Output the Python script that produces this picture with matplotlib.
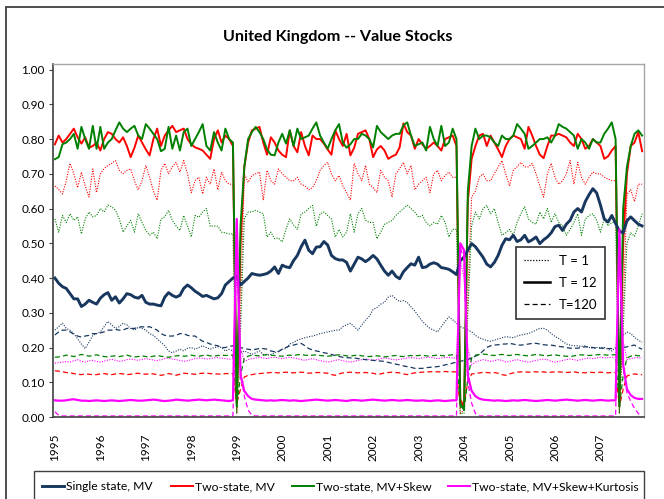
import numpy as np
import matplotlib.pyplot as plt
from matplotlib.lines import Line2D
from matplotlib.patches import Rectangle

plt.rcParams['font.family'] = ['Lato', 'DejaVu Sans']

# Monthly portfolio weights, Jan 1995 - Dec 2007 (12 values per row = one year)
years = ['1995', '1996', '1997', '1998', '1999', '2000', '2001',
         '2002', '2003', '2004', '2005', '2006', '2007']

# Single state, MV
navy_t1 = [
    0.250, 0.260, 0.270, 0.255, 0.250, 0.240, 0.225, 0.210, 0.197, 0.215, 0.235, 0.240,
    0.245, 0.260, 0.275, 0.265, 0.255, 0.260, 0.270, 0.265, 0.255, 0.250, 0.258, 0.255,
    0.250, 0.240, 0.235, 0.225, 0.215, 0.205, 0.190, 0.185, 0.190, 0.195, 0.190, 0.198,
    0.200, 0.195, 0.200, 0.205, 0.200, 0.195, 0.200, 0.202, 0.200, 0.190, 0.195, 0.190,
    0.190, 0.185, 0.190, 0.185, 0.180, 0.185, 0.190, 0.180, 0.178, 0.180, 0.185, 0.190,
    0.195, 0.197, 0.210, 0.215, 0.221, 0.225, 0.228, 0.231, 0.233, 0.236, 0.240, 0.242,
    0.245, 0.247, 0.250, 0.250, 0.260, 0.265, 0.270, 0.260, 0.250, 0.265, 0.279, 0.290,
    0.310, 0.315, 0.325, 0.330, 0.345, 0.350, 0.340, 0.332, 0.335, 0.330, 0.317, 0.305,
    0.290, 0.275, 0.265, 0.255, 0.250, 0.245, 0.260, 0.275, 0.288, 0.280, 0.270, 0.260,
    0.255, 0.250, 0.245, 0.235, 0.228, 0.224, 0.220, 0.218, 0.221, 0.225, 0.228, 0.231,
    0.230, 0.228, 0.233, 0.236, 0.238, 0.240, 0.245, 0.250, 0.255, 0.255, 0.250, 0.240,
    0.232, 0.226, 0.218, 0.210, 0.207, 0.205, 0.205, 0.203, 0.205, 0.200, 0.198, 0.200,
    0.200, 0.200, 0.195, 0.190, 0.200, 0.220, 0.235, 0.245, 0.240, 0.230, 0.221, 0.215]
navy_t12 = [
    0.400, 0.385, 0.375, 0.370, 0.355, 0.340, 0.340, 0.318, 0.325, 0.336, 0.330, 0.325,
    0.342, 0.352, 0.358, 0.336, 0.346, 0.328, 0.340, 0.355, 0.352, 0.345, 0.342, 0.350,
    0.330, 0.325, 0.325, 0.322, 0.320, 0.345, 0.358, 0.350, 0.345, 0.350, 0.370, 0.380,
    0.372, 0.362, 0.355, 0.347, 0.350, 0.345, 0.340, 0.343, 0.355, 0.380, 0.390, 0.400,
    0.405, 0.380, 0.390, 0.400, 0.413, 0.410, 0.408, 0.410, 0.413, 0.420, 0.432, 0.413,
    0.437, 0.432, 0.430, 0.450, 0.465, 0.490, 0.509, 0.480, 0.470, 0.489, 0.490, 0.505,
    0.495, 0.465, 0.456, 0.452, 0.452, 0.445, 0.420, 0.440, 0.460, 0.455, 0.447, 0.455,
    0.465, 0.455, 0.437, 0.420, 0.408, 0.420, 0.405, 0.398, 0.418, 0.430, 0.441, 0.437,
    0.460, 0.430, 0.432, 0.440, 0.444, 0.440, 0.430, 0.428, 0.425, 0.418, 0.410, 0.450,
    0.460, 0.480, 0.499, 0.490, 0.475, 0.460, 0.440, 0.432, 0.445, 0.465, 0.494, 0.513,
    0.510, 0.523, 0.505, 0.510, 0.523, 0.504, 0.510, 0.518, 0.499, 0.510, 0.518, 0.530,
    0.548, 0.552, 0.537, 0.555, 0.566, 0.590, 0.600, 0.590, 0.620, 0.640, 0.657, 0.645,
    0.610, 0.570, 0.561, 0.580, 0.557, 0.535, 0.530, 0.565, 0.576, 0.565, 0.555, 0.550]
navy_t120 = [
    0.236, 0.245, 0.250, 0.250, 0.245, 0.238, 0.233, 0.230, 0.233, 0.235, 0.240, 0.240,
    0.242, 0.245, 0.250, 0.250, 0.252, 0.250, 0.250, 0.255, 0.255, 0.255, 0.258, 0.260,
    0.258, 0.260, 0.255, 0.250, 0.240, 0.235, 0.233, 0.233, 0.235, 0.240, 0.240, 0.235,
    0.233, 0.233, 0.225, 0.218, 0.215, 0.210, 0.207, 0.205, 0.200, 0.200, 0.203, 0.205,
    0.202, 0.200, 0.197, 0.195, 0.193, 0.195, 0.197, 0.197, 0.195, 0.190, 0.188, 0.188,
    0.195, 0.200, 0.205, 0.207, 0.210, 0.212, 0.205, 0.197, 0.193, 0.190, 0.188, 0.185,
    0.183, 0.180, 0.177, 0.174, 0.172, 0.171, 0.170, 0.170, 0.168, 0.167, 0.165, 0.164,
    0.163, 0.162, 0.161, 0.160, 0.157, 0.155, 0.152, 0.150, 0.147, 0.145, 0.143, 0.140,
    0.140, 0.140, 0.142, 0.143, 0.144, 0.145, 0.147, 0.150, 0.152, 0.155, 0.158, 0.160,
    0.163, 0.165, 0.170, 0.175, 0.180, 0.190, 0.200, 0.205, 0.207, 0.208, 0.210, 0.210,
    0.212, 0.210, 0.207, 0.207, 0.208, 0.210, 0.212, 0.212, 0.210, 0.208, 0.207, 0.207,
    0.205, 0.203, 0.202, 0.200, 0.198, 0.198, 0.198, 0.200, 0.202, 0.202, 0.200, 0.198,
    0.198, 0.198, 0.197, 0.197, 0.198, 0.200, 0.200, 0.202, 0.205, 0.207, 0.200, 0.195]

# Two-state, MV
red_t1 = [
    0.665, 0.655, 0.642, 0.680, 0.730, 0.700, 0.660, 0.705, 0.665, 0.633, 0.714, 0.646,
    0.700, 0.715, 0.724, 0.730, 0.738, 0.710, 0.700, 0.710, 0.714, 0.680, 0.654, 0.680,
    0.724, 0.690, 0.650, 0.624, 0.710, 0.730, 0.700, 0.720, 0.733, 0.705, 0.738, 0.700,
    0.646, 0.680, 0.690, 0.642, 0.690, 0.670, 0.714, 0.654, 0.705, 0.680, 0.670, 0.670,
    0.010, 0.300, 0.700, 0.675, 0.695, 0.700, 0.705, 0.624, 0.710, 0.680, 0.670, 0.714,
    0.700, 0.690, 0.680, 0.680, 0.690, 0.670, 0.665, 0.654, 0.660, 0.680, 0.710, 0.724,
    0.733, 0.700, 0.680, 0.695, 0.665, 0.646, 0.624, 0.730, 0.700, 0.680, 0.724, 0.670,
    0.660, 0.646, 0.710, 0.690, 0.680, 0.633, 0.700, 0.715, 0.733, 0.700, 0.724, 0.654,
    0.670, 0.680, 0.690, 0.646, 0.700, 0.710, 0.680, 0.695, 0.705, 0.690, 0.690, 0.010,
    0.020, 0.350, 0.633, 0.650, 0.690, 0.700, 0.680, 0.680, 0.700, 0.720, 0.738, 0.700,
    0.665, 0.710, 0.720, 0.733, 0.720, 0.720, 0.730, 0.700, 0.665, 0.633, 0.700, 0.730,
    0.690, 0.670, 0.680, 0.700, 0.738, 0.670, 0.733, 0.690, 0.670, 0.690, 0.705, 0.700,
    0.700, 0.690, 0.685, 0.680, 0.680, 0.010, 0.300, 0.642, 0.654, 0.620, 0.670, 0.670]
red_t12 = [
    0.785, 0.810, 0.790, 0.800, 0.815, 0.830, 0.805, 0.787, 0.805, 0.775, 0.780, 0.790,
    0.767, 0.800, 0.820, 0.815, 0.800, 0.790, 0.805, 0.780, 0.748, 0.775, 0.810, 0.790,
    0.770, 0.753, 0.800, 0.830, 0.780, 0.810, 0.825, 0.838, 0.820, 0.825, 0.830, 0.800,
    0.785, 0.776, 0.772, 0.767, 0.755, 0.743, 0.800, 0.825, 0.790, 0.810, 0.800, 0.780,
    0.040, 0.500, 0.720, 0.790, 0.825, 0.830, 0.835, 0.790, 0.755, 0.805, 0.790, 0.767,
    0.755, 0.748, 0.825, 0.780, 0.762, 0.820, 0.780, 0.753, 0.810, 0.800, 0.800, 0.787,
    0.770, 0.755, 0.825, 0.800, 0.780, 0.815, 0.753, 0.775, 0.815, 0.820, 0.825, 0.800,
    0.748, 0.770, 0.780, 0.767, 0.743, 0.750, 0.755, 0.776, 0.845, 0.820, 0.810, 0.772,
    0.800, 0.785, 0.772, 0.780, 0.790, 0.780, 0.767, 0.800, 0.805, 0.810, 0.780, 0.050,
    0.030, 0.620, 0.743, 0.780, 0.810, 0.815, 0.780, 0.810, 0.790, 0.770, 0.748, 0.780,
    0.800, 0.810, 0.805, 0.800, 0.772, 0.835, 0.810, 0.780, 0.755, 0.745, 0.780, 0.810,
    0.810, 0.815, 0.810, 0.805, 0.790, 0.780, 0.815, 0.800, 0.772, 0.780, 0.800, 0.790,
    0.780, 0.743, 0.750, 0.767, 0.780, 0.040, 0.500, 0.700, 0.780, 0.790, 0.820, 0.765]
red_t120 = [
    0.133, 0.132, 0.130, 0.128, 0.127, 0.125, 0.123, 0.122, 0.124, 0.123, 0.122, 0.122,
    0.124, 0.125, 0.123, 0.122, 0.124, 0.125, 0.124, 0.122, 0.123, 0.125, 0.126, 0.124,
    0.123, 0.125, 0.124, 0.122, 0.120, 0.122, 0.125, 0.123, 0.120, 0.123, 0.126, 0.125,
    0.124, 0.123, 0.125, 0.126, 0.126, 0.125, 0.124, 0.124, 0.123, 0.125, 0.125, 0.125,
    0.040, 0.080, 0.115, 0.120, 0.122, 0.124, 0.125, 0.126, 0.127, 0.128, 0.128, 0.127,
    0.128, 0.129, 0.128, 0.127, 0.128, 0.129, 0.128, 0.126, 0.127, 0.128, 0.128, 0.127,
    0.126, 0.122, 0.120, 0.124, 0.127, 0.128, 0.129, 0.128, 0.127, 0.128, 0.128, 0.127,
    0.126, 0.123, 0.124, 0.127, 0.128, 0.129, 0.128, 0.127, 0.124, 0.122, 0.125, 0.127,
    0.128, 0.129, 0.130, 0.130, 0.131, 0.130, 0.130, 0.131, 0.130, 0.130, 0.130, 0.030,
    0.040, 0.100, 0.124, 0.125, 0.127, 0.128, 0.128, 0.127, 0.128, 0.126, 0.122, 0.120,
    0.124, 0.127, 0.129, 0.130, 0.130, 0.129, 0.130, 0.130, 0.129, 0.130, 0.128, 0.129,
    0.130, 0.130, 0.129, 0.128, 0.129, 0.130, 0.128, 0.128, 0.127, 0.129, 0.128, 0.128,
    0.129, 0.128, 0.127, 0.128, 0.128, 0.030, 0.080, 0.118, 0.122, 0.124, 0.122, 0.122]

# Two-state, MV+Skew
green_t1 = [
    0.570, 0.532, 0.580, 0.560, 0.585, 0.566, 0.576, 0.527, 0.570, 0.590, 0.576, 0.580,
    0.600, 0.590, 0.610, 0.605, 0.595, 0.570, 0.532, 0.550, 0.566, 0.532, 0.585, 0.560,
    0.537, 0.523, 0.532, 0.513, 0.570, 0.576, 0.595, 0.566, 0.550, 0.537, 0.580, 0.550,
    0.518, 0.580, 0.575, 0.590, 0.600, 0.549, 0.550, 0.549, 0.532, 0.530, 0.527, 0.527,
    0.010, 0.250, 0.570, 0.590, 0.590, 0.595, 0.590, 0.585, 0.518, 0.532, 0.513, 0.515,
    0.504, 0.540, 0.570, 0.553, 0.540, 0.585, 0.590, 0.600, 0.609, 0.549, 0.585, 0.590,
    0.580, 0.570, 0.518, 0.540, 0.518, 0.532, 0.585, 0.532, 0.585, 0.600, 0.566, 0.560,
    0.560, 0.513, 0.532, 0.555, 0.560, 0.566, 0.580, 0.590, 0.600, 0.610, 0.600, 0.590,
    0.575, 0.580, 0.560, 0.550, 0.560, 0.555, 0.580, 0.560, 0.518, 0.540, 0.540, 0.010,
    0.010, 0.300, 0.550, 0.590, 0.570, 0.600, 0.609, 0.585, 0.600, 0.560, 0.523, 0.530,
    0.540, 0.523, 0.560, 0.585, 0.605, 0.570, 0.560, 0.555, 0.590, 0.570, 0.600, 0.560,
    0.585, 0.560, 0.550, 0.523, 0.540, 0.560, 0.585, 0.523, 0.570, 0.580, 0.585, 0.566,
    0.532, 0.570, 0.550, 0.560, 0.560, 0.010, 0.250, 0.500, 0.530, 0.520, 0.550, 0.585]
green_t12 = [
    0.742, 0.748, 0.785, 0.790, 0.800, 0.815, 0.772, 0.835, 0.800, 0.772, 0.838, 0.772,
    0.835, 0.772, 0.790, 0.800, 0.825, 0.848, 0.830, 0.820, 0.830, 0.838, 0.810, 0.800,
    0.843, 0.830, 0.815, 0.800, 0.765, 0.772, 0.835, 0.772, 0.810, 0.767, 0.820, 0.830,
    0.780, 0.800, 0.820, 0.843, 0.780, 0.767, 0.820, 0.790, 0.767, 0.830, 0.800, 0.790,
    0.030, 0.550, 0.720, 0.800, 0.820, 0.835, 0.820, 0.800, 0.770, 0.755, 0.753, 0.790,
    0.815, 0.787, 0.825, 0.780, 0.830, 0.800, 0.805, 0.810, 0.830, 0.848, 0.810, 0.790,
    0.772, 0.800, 0.825, 0.843, 0.790, 0.775, 0.785, 0.800, 0.800, 0.815, 0.810, 0.800,
    0.776, 0.838, 0.820, 0.810, 0.800, 0.810, 0.815, 0.815, 0.840, 0.848, 0.810, 0.780,
    0.785, 0.790, 0.767, 0.835, 0.800, 0.780, 0.838, 0.780, 0.790, 0.830, 0.800, 0.040,
    0.020, 0.650, 0.780, 0.830, 0.800, 0.810, 0.810, 0.805, 0.790, 0.780, 0.810, 0.800,
    0.800, 0.810, 0.843, 0.830, 0.815, 0.772, 0.780, 0.790, 0.800, 0.800, 0.805, 0.790,
    0.810, 0.843, 0.835, 0.830, 0.820, 0.810, 0.772, 0.800, 0.790, 0.772, 0.800, 0.790,
    0.790, 0.815, 0.830, 0.848, 0.800, 0.030, 0.600, 0.720, 0.780, 0.815, 0.825, 0.810]
green_t120 = [
    0.172, 0.173, 0.175, 0.178, 0.176, 0.174, 0.177, 0.180, 0.178, 0.175, 0.177, 0.179,
    0.176, 0.174, 0.173, 0.175, 0.176, 0.174, 0.176, 0.178, 0.175, 0.173, 0.174, 0.176,
    0.174, 0.173, 0.175, 0.177, 0.175, 0.173, 0.172, 0.174, 0.176, 0.177, 0.175, 0.176,
    0.178, 0.176, 0.175, 0.177, 0.178, 0.176, 0.175, 0.177, 0.178, 0.177, 0.178, 0.178,
    0.030, 0.120, 0.170, 0.175, 0.178, 0.177, 0.176, 0.178, 0.180, 0.178, 0.177, 0.176,
    0.175, 0.177, 0.178, 0.177, 0.179, 0.180, 0.178, 0.177, 0.178, 0.179, 0.177, 0.176,
    0.175, 0.176, 0.178, 0.179, 0.178, 0.176, 0.175, 0.177, 0.178, 0.176, 0.175, 0.174,
    0.175, 0.176, 0.175, 0.173, 0.174, 0.176, 0.177, 0.175, 0.174, 0.176, 0.177, 0.176,
    0.177, 0.178, 0.176, 0.175, 0.177, 0.178, 0.177, 0.176, 0.178, 0.179, 0.178, 0.030,
    0.020, 0.110, 0.170, 0.178, 0.180, 0.181, 0.180, 0.178, 0.177, 0.179, 0.180, 0.178,
    0.177, 0.179, 0.180, 0.178, 0.177, 0.176, 0.178, 0.180, 0.179, 0.177, 0.176, 0.178,
    0.179, 0.177, 0.176, 0.175, 0.174, 0.176, 0.178, 0.179, 0.178, 0.177, 0.178, 0.179,
    0.180, 0.179, 0.178, 0.179, 0.179, 0.030, 0.120, 0.170, 0.175, 0.178, 0.176, 0.177]

# Two-state, MV+Skew+Kurtosis
pink_t1 = [
    0.155, 0.156, 0.158, 0.160, 0.158, 0.162, 0.165, 0.160, 0.158, 0.162, 0.163, 0.160,
    0.158, 0.161, 0.164, 0.166, 0.163, 0.160, 0.162, 0.165, 0.167, 0.165, 0.163, 0.166,
    0.168, 0.166, 0.164, 0.162, 0.165, 0.168, 0.170, 0.167, 0.165, 0.163, 0.160, 0.162,
    0.165, 0.168, 0.170, 0.169, 0.167, 0.168, 0.170, 0.171, 0.169, 0.168, 0.166, 0.168,
    0.420, 0.200, 0.160, 0.165, 0.168, 0.170, 0.172, 0.170, 0.168, 0.171, 0.172, 0.170,
    0.168, 0.170, 0.172, 0.170, 0.168, 0.165, 0.163, 0.166, 0.168, 0.165, 0.162, 0.160,
    0.158, 0.160, 0.163, 0.165, 0.162, 0.160, 0.158, 0.160, 0.163, 0.165, 0.167, 0.165,
    0.163, 0.165, 0.168, 0.170, 0.168, 0.166, 0.164, 0.166, 0.168, 0.170, 0.171, 0.170,
    0.168, 0.170, 0.171, 0.172, 0.170, 0.168, 0.170, 0.171, 0.172, 0.170, 0.170, 0.450,
    0.400, 0.200, 0.150, 0.158, 0.162, 0.165, 0.163, 0.160, 0.162, 0.165, 0.163, 0.158,
    0.160, 0.163, 0.165, 0.162, 0.160, 0.158, 0.160, 0.163, 0.165, 0.167, 0.165, 0.160,
    0.158, 0.160, 0.163, 0.165, 0.167, 0.165, 0.163, 0.166, 0.168, 0.170, 0.168, 0.170,
    0.172, 0.170, 0.171, 0.172, 0.172, 0.450, 0.220, 0.165, 0.168, 0.170, 0.171, 0.170]
pink_t12 = [
    0.048, 0.047, 0.047, 0.048, 0.050, 0.051, 0.049, 0.047, 0.047, 0.046, 0.047, 0.048,
    0.047, 0.046, 0.047, 0.048, 0.047, 0.046, 0.047, 0.048, 0.049, 0.048, 0.047, 0.047,
    0.048, 0.049, 0.050, 0.049, 0.047, 0.046, 0.047, 0.048, 0.050, 0.049, 0.048, 0.047,
    0.048, 0.049, 0.050, 0.049, 0.048, 0.049, 0.050, 0.049, 0.048, 0.047, 0.046, 0.048,
    0.570, 0.120, 0.075, 0.060, 0.052, 0.050, 0.049, 0.048, 0.047, 0.048, 0.047, 0.048,
    0.049, 0.048, 0.047, 0.048, 0.047, 0.046, 0.047, 0.048, 0.049, 0.050, 0.049, 0.048,
    0.047, 0.048, 0.049, 0.048, 0.047, 0.046, 0.048, 0.049, 0.048, 0.047, 0.048, 0.049,
    0.050, 0.049, 0.048, 0.047, 0.048, 0.049, 0.048, 0.047, 0.048, 0.049, 0.048, 0.047,
    0.047, 0.048, 0.047, 0.046, 0.047, 0.048, 0.047, 0.046, 0.047, 0.048, 0.048, 0.500,
    0.480, 0.120, 0.075, 0.060, 0.053, 0.050, 0.049, 0.048, 0.047, 0.048, 0.047, 0.046,
    0.047, 0.048, 0.047, 0.048, 0.049, 0.048, 0.047, 0.046, 0.047, 0.048, 0.049, 0.048,
    0.047, 0.048, 0.049, 0.050, 0.049, 0.048, 0.047, 0.048, 0.049, 0.048, 0.047, 0.048,
    0.049, 0.048, 0.047, 0.048, 0.048, 0.540, 0.150, 0.080, 0.063, 0.055, 0.052, 0.052]
pink_t120 = [
    0.015, 0.005, 0.003, 0.003, 0.003, 0.003, 0.003, 0.003, 0.003, 0.003, 0.003, 0.003,
    0.003, 0.003, 0.003, 0.003, 0.003, 0.003, 0.003, 0.003, 0.003, 0.003, 0.003, 0.003,
    0.003, 0.003, 0.003, 0.003, 0.003, 0.003, 0.003, 0.003, 0.003, 0.003, 0.003, 0.003,
    0.003, 0.003, 0.003, 0.003, 0.003, 0.003, 0.003, 0.003, 0.003, 0.003, 0.003, 0.003,
    0.500, 0.130, 0.060, 0.020, 0.005, 0.003, 0.003, 0.003, 0.003, 0.003, 0.003, 0.003,
    0.003, 0.003, 0.003, 0.003, 0.003, 0.003, 0.003, 0.003, 0.003, 0.003, 0.003, 0.003,
    0.003, 0.003, 0.003, 0.003, 0.003, 0.003, 0.003, 0.003, 0.003, 0.003, 0.003, 0.003,
    0.003, 0.003, 0.003, 0.003, 0.003, 0.003, 0.003, 0.003, 0.003, 0.003, 0.003, 0.003,
    0.003, 0.003, 0.003, 0.003, 0.003, 0.003, 0.003, 0.003, 0.003, 0.003, 0.003, 0.490,
    0.450, 0.100, 0.040, 0.010, 0.003, 0.003, 0.003, 0.003, 0.003, 0.003, 0.003, 0.003,
    0.003, 0.003, 0.003, 0.003, 0.003, 0.003, 0.003, 0.003, 0.003, 0.003, 0.003, 0.003,
    0.003, 0.003, 0.003, 0.003, 0.003, 0.003, 0.003, 0.003, 0.003, 0.003, 0.003, 0.003,
    0.003, 0.003, 0.003, 0.003, 0.003, 0.500, 0.150, 0.070, 0.045, 0.025, 0.010, 0.003]

model_labels = ['Single state, MV', 'Two-state, MV', 'Two-state, MV+Skew',
                'Two-state, MV+Skew+Kurtosis']
horizon_labels = ['T = 1', 'T = 12', 'T=120']

NAVY = '#17375E'
RED = '#FF0000'
GREEN = '#008000'
PINK = '#FF00FF'

DOT = (0, (1.0, 1.3))
DASH = (0, (4, 2.5))

W, H = 664, 499
fig = plt.figure(figsize=(W / 100, H / 100), dpi=100)
ax = fig.add_axes([53 / W, 1 - 417 / H, (644 - 53) / W, (417 - 64) / H])

x = np.arange(len(navy_t12))

# T = 1 (dotted) and T = 120 (dashed) horizons
for series, col in [(navy_t1, NAVY), (red_t1, RED), (green_t1, GREEN), (pink_t1, PINK)]:
    ax.plot(x, series, color=col, lw=0.8, linestyle=DOT)
for series, col in [(navy_t120, NAVY), (red_t120, RED), (green_t120, GREEN), (pink_t120, PINK)]:
    ax.plot(x, series, color=col, lw=0.9, linestyle=DASH)

# T = 12 (solid)
ax.plot(x, red_t12, color=RED, lw=1.4)
ax.plot(x, green_t12, color=GREEN, lw=1.4)
ax.plot(x, navy_t12, color=NAVY, lw=2.1)
ax.plot(x, pink_t12, color=PINK, lw=1.6)

ax.set_xlim(-0.5, len(x) - 0.5)
ax.set_ylim(0, 1.016)
ax.set_yticks(np.arange(0, 1.01, 0.1))
ax.set_yticklabels([f'{v:.2f}' for v in np.arange(0, 1.01, 0.1)])
ax.set_xticks(np.arange(0, len(x), 12))
ax.set_xticklabels(years, rotation=90)
ax.tick_params(axis='y', direction='out', length=3, width=0.8, color='#404040',
               labelsize=8.5, pad=3)
ax.tick_params(axis='x', length=0, labelsize=8.5, pad=12)
for side in ['left', 'bottom']:
    ax.spines[side].set_color('#404040')
    ax.spines[side].set_linewidth(1.2)
for side in ['top', 'right']:
    ax.spines[side].set_color('#A6A6A6')
    ax.spines[side].set_linewidth(1.0)

fig.text(338 / W, 1 - 37 / H, 'United Kingdom -- Value Stocks',
         ha='center', va='center', fontsize=11.6, fontweight='bold')

# horizon legend (inside plot)
h_handles = [Line2D([], [], color='black', lw=0.9, linestyle=DOT),
             Line2D([], [], color='black', lw=1.8),
             Line2D([], [], color='black', lw=0.9, linestyle=DASH)]
leg1 = fig.legend(h_handles, horizon_labels, loc='upper left',
                  bbox_to_anchor=(516 / W, 1 - 247 / H), fontsize=9.5,
                  frameon=True, fancybox=False, edgecolor='black',
                  handlelength=2.0, handletextpad=0.65, labelspacing=0.75,
                  borderpad=0.6, borderaxespad=0)
leg1.get_frame().set_linewidth(1.2)

# model legend (below plot): frame plus one entry per column
fig.add_artist(Rectangle((34 / W, -0.1), (644 - 34) / W, 0.1 + 1 - 471 / H,
                         transform=fig.transFigure, fill=False,
                         edgecolor='#404040', lw=1.0))
m_colors = [NAVY, RED, GREEN, PINK]
m_widths = [2.1, 1.4, 1.4, 1.4]
m_starts = [42, 171, 292, 448]
for lab, col, lw, x0 in zip(model_labels, m_colors, m_widths, m_starts):
    fig.legend([Line2D([], [], color=col, lw=lw)], [lab], loc='center left',
               bbox_to_anchor=(x0 / W, 1 - 487 / H), fontsize=8.7, frameon=False,
               handlelength=1.8, handletextpad=0.2, borderpad=0, borderaxespad=0)

# outer chart border
fig.add_artist(Rectangle((6 / W, -0.1), (665 - 6) / W, 1.1 - 7 / H,
                         transform=fig.transFigure, fill=False,
                         edgecolor='#404040', lw=1.3))

fig.savefig('out.png', dpi=100)
